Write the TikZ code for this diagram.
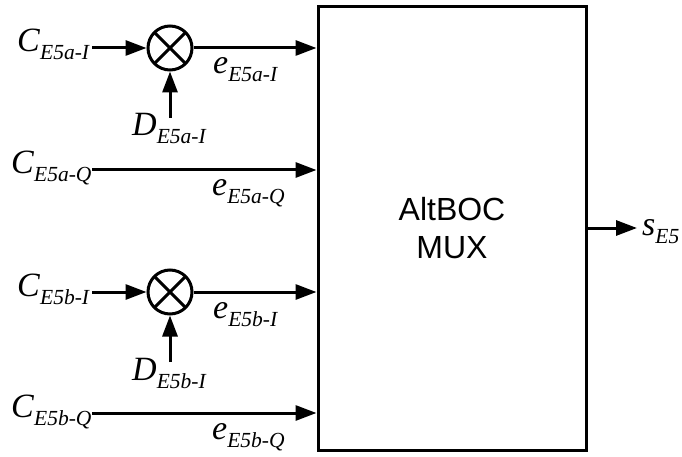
\documentclass[tikz,border=0pt]{standalone}
\usepackage{fontspec}
\setmainfont{Liberation Serif}
\setsansfont{Liberation Sans}
\usetikzlibrary{arrows.meta}
\newcommand\sigtxt[2]{\fontsize{34}{36}\selectfont\textit{#1}\raisebox{-8pt}{\fontsize{21.5}{24}\selectfont\textit{#2}}}
\begin{document}
\begin{tikzpicture}[x=1pt,y=-1pt,
  lbl/.style={inner sep=0pt, anchor=base west},
  sig/.style={line width=3pt, -{Triangle[length=21pt,width=15pt]}},
  mixer/.style={circle, draw, line width=3pt, minimum size=44pt, inner sep=0pt,
    path picture={\draw[line width=3pt] (path picture bounding box.north west) -- (path picture bounding box.south east)
      (path picture bounding box.north east) -- (path picture bounding box.south west);}}]
\useasboundingbox (0,0) rectangle (682,457);

% MUX box
\node[draw, line width=3pt, minimum width=268pt, minimum height=443pt, inner sep=0pt,
  align=center, font=\sffamily\fontsize{32}{38}\selectfont] (mux) at (452,228.5) {AltBOC\\MUX};

% mixers
\node[mixer] (m1) at (170,48) {};
\node[mixer] (m2) at (170,292) {};

% input labels
\node[lbl] (cA) at (17,52) {\sigtxt{C}{E5a-I}};
\node[lbl] (cB) at (11,174) {\sigtxt{C}{E5a-Q}};
\node[lbl] (cC) at (17,296) {\sigtxt{C}{E5b-I}};
\node[lbl] (cD) at (11,417) {\sigtxt{C}{E5b-Q}};

\node[lbl] (dA) at (132,136) {\sigtxt{D}{E5a-I}};
\node[lbl] (dC) at (132,380) {\sigtxt{D}{E5b-I}};

\node[lbl] (eA) at (213,74) {\sigtxt{e}{E5a-I}};
\node[lbl] (eB) at (212,196) {\sigtxt{e}{E5a-Q}};
\node[lbl] (eC) at (213,318) {\sigtxt{e}{E5b-I}};
\node[lbl] (eD) at (212,439) {\sigtxt{e}{E5b-Q}};

\node[lbl] (sE) at (642,235) {\sigtxt{s}{E5}};

% connector end points
\coordinate (sA) at (92,48);
\coordinate (sB) at (92,170);
\coordinate (sC) at (92,292);
\coordinate (sD) at (92,413);
\coordinate (tA) at (170,118);
\coordinate (tC) at (170,362);
\coordinate (oE) at (637,228);

% connectors
\draw[sig] (sA) -- (m1.west);
\draw[sig] (tA) -- (m1.south);
\draw[sig] (m1.east) -- (mux.west |- m1);
\draw[sig] (sB) -- (mux.west |- sB);
\draw[sig] (sC) -- (m2.west);
\draw[sig] (tC) -- (m2.south);
\draw[sig] (m2.east) -- (mux.west |- m2);
\draw[sig] (sD) -- (mux.west |- sD);
\draw[sig] (mux.east |- oE) -- (oE);
\end{tikzpicture}
\end{document}
